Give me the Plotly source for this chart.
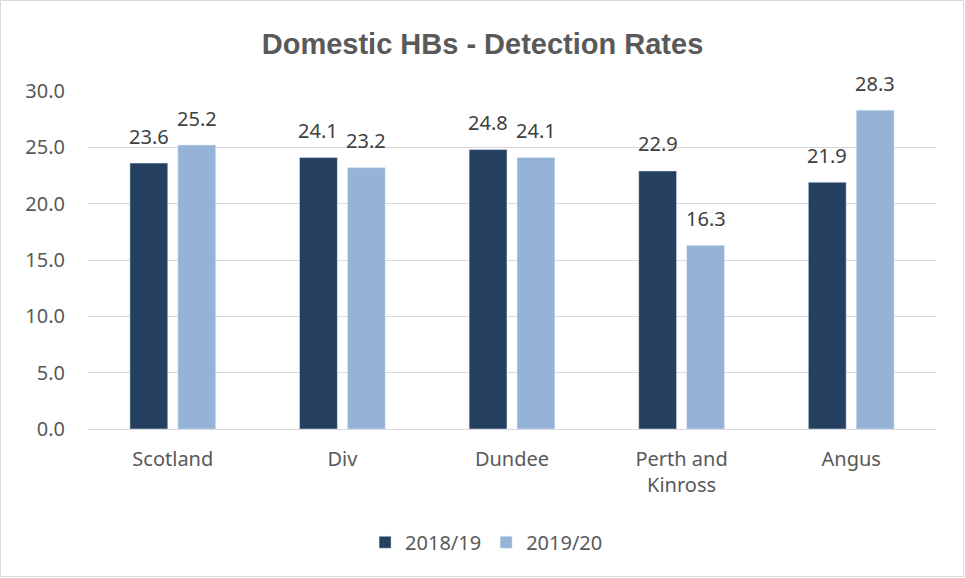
import plotly.graph_objects as go

# chart data
categories = ["Scotland", "Div", "Dundee", "Perth and<br>Kinross", "Angus"]
rates_2018_19 = [23.6, 24.1, 24.8, 22.9, 21.9]
rates_2019_20 = [25.2, 23.2, 24.1, 16.3, 28.3]
y_ticks = [0, 5, 10, 15, 20, 25, 30]

DARK = "#243F60"
LIGHT = "#95B3D7"
TEXT = "#595959"
BODY_FONT = "Noto Sans, sans-serif"
TITLE_FONT = "Liberation Sans, Arial, sans-serif"

fig = go.Figure()

series = [("2018/19", rates_2018_19, DARK, -24), ("2019/20", rates_2019_20, LIGHT, 24)]
for name, vals, col, _ in series:
    fig.add_trace(go.Bar(name=name, x=categories, y=vals, marker_color=col))

# data labels sit a little higher above the bars than plotly's outside text
for name, vals, col, dx in series:
    for cat, v in zip(categories, vals):
        fig.add_annotation(x=cat, y=v, xref="x", yref="y", text=f"{v:.1f}",
                           showarrow=False, xshift=dx, yshift=27, yanchor="middle",
                           font=dict(size=20, color="#404040", family=BODY_FONT))

W, H = 965, 578
ml, mr, mt, mb = 88, 29, 91, 149
pw, ph = W - ml - mr, H - mt - mb

fig.update_layout(
    width=W, height=H,
    margin=dict(l=ml, r=mr, t=mt, b=mb),
    paper_bgcolor="white", plot_bgcolor="white",
    barmode="group", bargap=0.435, bargroupgap=0.21,
    title=dict(text="<b>Domestic HBs - Detection Rates</b>",
               x=0.5, xanchor="center", y=1 - 44 / H, yanchor="middle",
               font=dict(size=29, color=TEXT, family=TITLE_FONT)),
    font=dict(family=BODY_FONT, color=TEXT, size=20),
    legend=dict(orientation="h", x=0.47, xanchor="center", y=-0.335, yanchor="middle",
                font=dict(size=20, color=TEXT), itemwidth=30,
                traceorder="normal"),
    showlegend=True,
)

fig.update_yaxes(range=[0, 30], tickvals=y_ticks,
                 ticktext=[f"{v:.1f}" for v in y_ticks],
                 showgrid=True, gridcolor="#D9D9D9", gridwidth=1,
                 zeroline=False, showline=False, ticks="",
                 tickfont=dict(size=20, color=TEXT), ticklabelstandoff=22)
fig.update_xaxes(showline=True, linecolor="#D9D9D9", linewidth=1,
                 ticks="", tickfont=dict(size=20, color=TEXT), ticklabelstandoff=12)

# outer chart border
fig.add_shape(type="rect", xref="paper", yref="paper",
              x0=-(ml - 0.5) / pw, x1=1 + (mr - 1.5) / pw,
              y0=-(mb - 1.5) / ph, y1=1 + (mt - 0.5) / ph,
              line=dict(color="#D9D9D9", width=1), fillcolor="rgba(0,0,0,0)",
              layer="below")

# drop the default page margin so the chart sits at the window origin
fig.write_html("out.html", config={"displayModeBar": False},
               post_script="document.body.style.margin='0';")
